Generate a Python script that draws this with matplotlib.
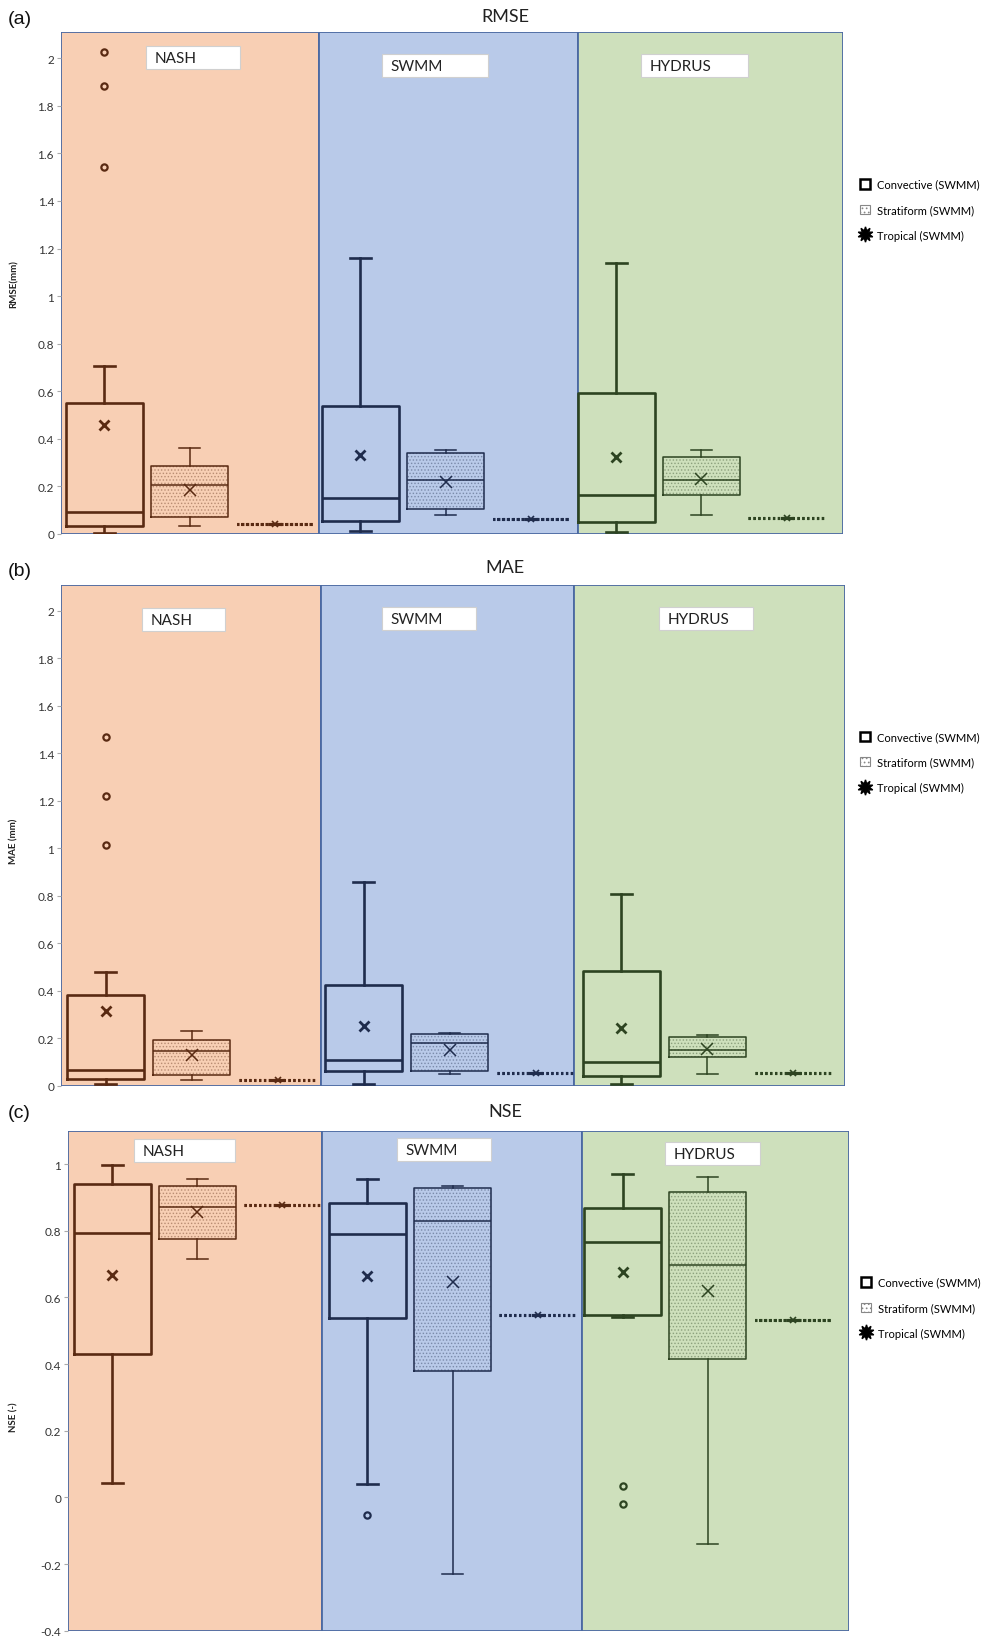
import matplotlib
matplotlib.use("Agg")
import matplotlib.pyplot as plt
from matplotlib.patches import Rectangle, Patch
from matplotlib.lines import Line2D
from matplotlib.ticker import FuncFormatter, MultipleLocator

plt.rcParams['font.family'] = ['Lato', 'DejaVu Sans']
plt.rcParams['hatch.linewidth'] = 0.7

models = ['NASH', 'SWMM', 'HYDRUS']
storms = ['Convective (SWMM)', 'Stratiform (SWMM)', 'Tropical (SWMM)']

# box order: NASH conv/strat/trop, SWMM conv/strat/trop, HYDRUS conv/strat/trop
rmse_lo = [0.004, 0.035, 0.042, 0.012, 0.080, 0.061, 0.010, 0.078, 0.068]
rmse_q1 = [0.033, 0.072, 0.042, 0.055, 0.104, 0.061, 0.051, 0.165, 0.068]
rmse_med = [0.092, 0.204, 0.042, 0.153, 0.226, 0.061, 0.162, 0.229, 0.068]
rmse_q3 = [0.549, 0.285, 0.042, 0.537, 0.340, 0.061, 0.593, 0.324, 0.068]
rmse_hi = [0.708, 0.362, 0.042, 1.160, 0.351, 0.061, 1.140, 0.353, 0.068]
rmse_mean = [0.458, 0.187, 0.042, 0.330, 0.220, 0.061, 0.324, 0.233, 0.068]
rmse_out = [[2.028, 1.882, 1.544], [], [], [], [], [], [], [], []]

mae_lo = [0.006, 0.023, 0.024, 0.008, 0.050, 0.052, 0.007, 0.050, 0.055]
mae_q1 = [0.027, 0.045, 0.024, 0.060, 0.063, 0.052, 0.042, 0.120, 0.055]
mae_med = [0.067, 0.146, 0.024, 0.108, 0.178, 0.052, 0.098, 0.152, 0.055]
mae_q3 = [0.383, 0.194, 0.024, 0.425, 0.219, 0.052, 0.482, 0.206, 0.055]
mae_hi = [0.477, 0.229, 0.024, 0.859, 0.221, 0.052, 0.808, 0.212, 0.055]
mae_mean = [0.313, 0.130, 0.024, 0.251, 0.152, 0.052, 0.243, 0.153, 0.055]
mae_out = [[1.467, 1.221, 1.015], [], [], [], [], [], [], [], []]

nse_lo = [0.044, 0.716, 0.876, 0.041, -0.229, 0.548, 0.542, -0.141, 0.533]
nse_q1 = [0.429, 0.776, 0.876, 0.538, 0.378, 0.548, 0.547, 0.415, 0.533]
nse_med = [0.793, 0.870, 0.876, 0.791, 0.828, 0.548, 0.766, 0.696, 0.533]
nse_q3 = [0.940, 0.935, 0.876, 0.882, 0.929, 0.548, 0.869, 0.917, 0.533]
nse_hi = [0.998, 0.956, 0.876, 0.955, 0.933, 0.548, 0.971, 0.960, 0.533]
nse_mean = [0.666, 0.856, 0.876, 0.664, 0.645, 0.548, 0.676, 0.619, 0.533]
nse_out = [[], [], [], [-0.053], [], [], [0.035, -0.020], [], []]

bg = ['#F8CFB4', '#B9CAE9', '#CEE0BC']
dark = ['#5A2A12', '#1F2C4D', '#2D4421']
frame = '#4B69A2'


def fmt(v, pos):
    v = round(v, 2)
    return f'{v:g}' if v != 0 else '0'


def draw_panel(ax, lo, q1, med, q3, hi, mean, out, ylim, ylabel, tags,
               label_xy, edges, leg_x):
    for i in range(3):
        ax.axvspan(edges[i], edges[i + 1], facecolor=bg[i], edgecolor=frame,
                   lw=1.3, zorder=0)
    for k in range(9):
        g, s = divmod(k, 3)
        c = dark[g]
        st = [dict(whislo=lo[k], q1=q1[k], med=med[k], q3=q3[k],
                   whishi=hi[k], mean=mean[k], fliers=out[k])]
        if s == 0:
            lw, ls, ms, mew = 1.9, '-', 7, 2.0
        elif s == 1:
            lw, ls, ms, mew = 1.1, '-', 8, 1.1
            ax.add_patch(Rectangle((k - 0.45, q1[k]), 0.9, q3[k] - q1[k],
                                   fill=False, hatch='.....', lw=0,
                                   edgecolor=c + '55', zorder=1))
        else:
            lw, ls, ms, mew = 2.2, (0, (0.6, 1.0)), 5, 1.2
        ax.bxp(st, positions=[k], widths=0.9, capwidths=0.25 if s < 2 else 0.12,
               showmeans=True,
               boxprops=dict(color=c, lw=lw, ls=ls),
               medianprops=dict(color=c, lw=lw, ls=ls),
               whiskerprops=dict(color=c, lw=lw),
               capprops=dict(color=c, lw=lw),
               meanprops=dict(marker='x', markeredgecolor=c, markersize=ms,
                              markeredgewidth=mew),
               flierprops=dict(marker='o', markerfacecolor='none',
                               markeredgecolor=c, markersize=4.5,
                               markeredgewidth=1.6),
               zorder=2)
    ax.set_xlim(edges[0], edges[-1])
    ax.set_ylim(*ylim)
    ax.set_xticks([])
    ax.yaxis.set_major_locator(MultipleLocator(0.2))
    ax.yaxis.set_major_formatter(FuncFormatter(fmt))
    ax.tick_params(axis='y', labelsize=8.5, length=3, color='#AAAAAA',
                   labelcolor='#333333', pad=2)
    for sp in ax.spines.values():
        sp.set_visible(False)
    ax.set_ylabel(ylabel, fontsize=7, fontweight='bold', color='#222222')
    ax.yaxis.set_label_coords(*label_xy)

    for name, (x0, y0, w) in zip(models, tags):
        ax.add_patch(Rectangle((x0, y0), w, 0.046, transform=ax.transAxes,
                               facecolor='white', edgecolor='#D0D0D0', lw=0.8,
                               zorder=3))
        ax.text(x0 + 0.011, y0 + 0.023, name, transform=ax.transAxes,
                fontsize=11, color='#222222', va='center', ha='left', zorder=4)

    handles = [
        Patch(facecolor='white', edgecolor='black', lw=1.8),
        Patch(facecolor='white', edgecolor='#888888', hatch='....', lw=0.8),
        Line2D([], [], ls='none', marker=(10, 1, 0), color='black',
               markersize=11),
    ]
    ax.legend(handles, storms, loc='center left', bbox_to_anchor=(leg_x, 0.646),
              frameon=False, fontsize=8, handlelength=0.9, handleheight=0.9,
              handletextpad=0.6, labelspacing=1.3, borderaxespad=0)


fig = plt.figure(figsize=(9.86, 16.4), dpi=100)
ax_a = fig.add_axes([61 / 986, 1 - 535 / 1640, 782 / 986, 502 / 1640])
ax_b = fig.add_axes([61 / 986, 1 - 1086.7 / 1640, 784 / 986, 501 / 1640])
ax_c = fig.add_axes([68 / 986, 1 - 1631.7 / 1640, 781 / 986, 500 / 1640])

draw_panel(ax_a, rmse_lo, rmse_q1, rmse_med, rmse_q3, rmse_hi, rmse_mean,
           rmse_out, (0, 2.11), 'RMSE(mm)',
           [(0.109, 0.926, 0.120), (0.410, 0.910, 0.136), (0.742, 0.910, 0.137)],
           (-0.054, 0.5), [-0.51, 2.51, 5.55, 8.66], 1.016)
draw_panel(ax_b, mae_lo, mae_q1, mae_med, mae_q3, mae_hi, mae_mean,
           mae_out, (0, 2.11), 'MAE (mm)',
           [(0.103, 0.907, 0.106), (0.409, 0.909, 0.120), (0.763, 0.909, 0.120)],
           (-0.054, 0.49), [-0.52, 2.50, 5.45, 8.60], 1.014)
draw_panel(ax_c, nse_lo, nse_q1, nse_med, nse_q3, nse_hi, nse_mean,
           nse_out, (-0.4, 1.1), 'NSE (-)',
           [(0.0845, 0.937, 0.129), (0.421, 0.939, 0.120), (0.764, 0.931, 0.122)],
           (-0.063, 0.43), [-0.52, 2.47, 5.52, 8.66], 1.010)

for title, y in [('RMSE', 17), ('MAE', 568), ('NSE', 1112)]:
    fig.text(505 / 986, 1 - y / 1640, title, fontsize=13, ha='center',
             va='center', color='#222222')
for tag, y in [('(a)', 19), ('(b)', 572), ('(c)', 1114)]:
    fig.text(8 / 986, 1 - y / 1640, tag, fontsize=14, ha='left', va='center',
             family='Liberation Sans', color='#111111')

fig.savefig('out.png', dpi=100)
